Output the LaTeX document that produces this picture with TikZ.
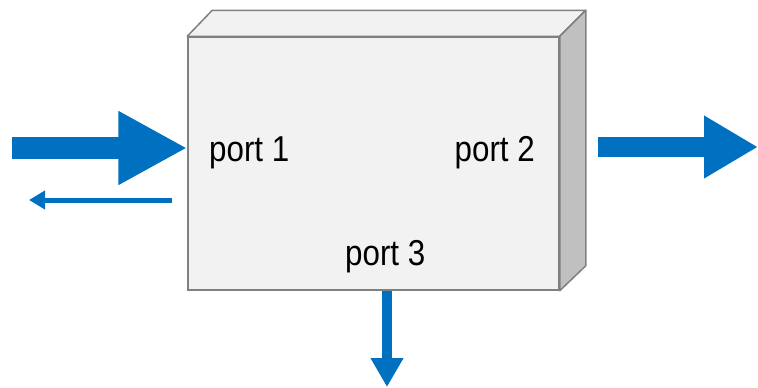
\documentclass[tikz,border=0pt]{standalone}
\usepackage{fontspec}
\setmainfont[FakeStretch=0.87]{Liberation Sans}
\usetikzlibrary{arrows.meta,calc}
\definecolor{portblue}{HTML}{0070C0}
\definecolor{edgegray}{HTML}{808080}
\definecolor{facelight}{HTML}{F2F2F2}
\definecolor{facedark}{HTML}{C0C0C0}
\tikzstyle{front face} = [draw=edgegray,fill=facelight,line width=1.5pt,inner sep=0,
                          minimum width=371pt,minimum height=253pt]
\tikzstyle{side face}  = [draw=edgegray,line width=1.5pt,line join=round]
\tikzstyle{port label} = [inner sep=0]

\begin{document}
\begin{tikzpicture}[x=1pt,y=-1pt,
                    font=\fontsize{36}{40}\selectfont,
                    big arrow/.style={portblue,line width=22pt,-{Triangle[length=69pt,width=69pt]}},
                    mid arrow/.style={portblue,line width=20pt,-{Triangle[length=54pt,width=59pt]}},
                    thin arrow/.style={portblue,line width=5pt,-{Triangle[length=16pt,width=18pt]}},
                    down arrow/.style={portblue,line width=10pt,-{Triangle[length=29pt,width=31pt]}}
                    ]
\useasboundingbox (0,0) rectangle (758,388);

    % the block
    \node(box)[front face] at (373.5,163.5) {};
    \draw[side face, fill=facelight] (box.north west) -- ++(25,-26)
        -- ($(box.north east)+(26,-26)$) -- (box.north east) -- cycle;
    \draw[side face, fill=facedark] (box.north east) -- ($(box.north east)+(26,-26)$)
        -- ($(box.south east)+(26,-25)$) -- (box.south east) -- cycle;

    % ports
    \node(p1)[port label, anchor=base west] at (209,161) {port 1};
    \node(p2)[port label, anchor=base east] at (535,161) {port 2};
    \node(p3)[port label, anchor=base west] at (345,265) {port 3};

    % arrows
    \coordinate (in1)   at (12,148);
    \coordinate (ref1)  at (172,200);
    \coordinate (refend) at (29,200);
    \coordinate (out2)  at (598,147);
    \coordinate (out2end) at (758,147);
    \coordinate (out3)  at ($(box.south)+(13.5,0)$);
    \coordinate (out3end) at (387,387);

    \draw[big arrow] (in1) -- (in1 -| box.west);
    \draw[thin arrow] (ref1) -- (refend);
    \draw[mid arrow] (out2) -- (out2end);
    \draw[down arrow] (out3) -- (out3end);

\end{tikzpicture}
\end{document}
